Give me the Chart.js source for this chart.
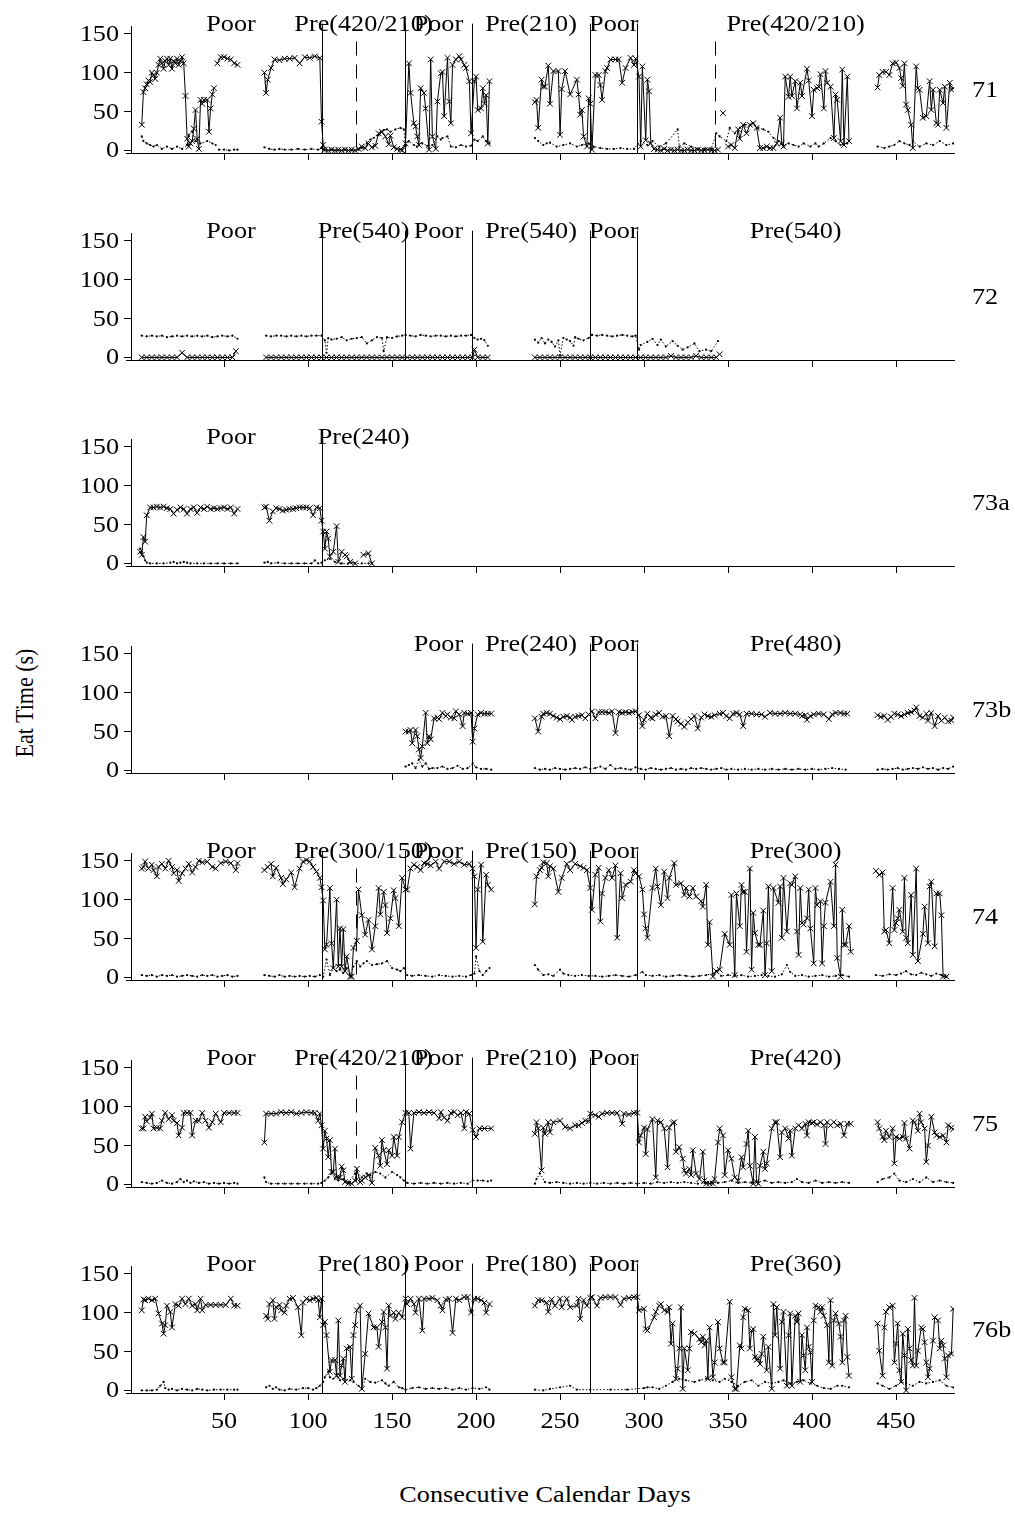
<!DOCTYPE html>
<html>
<head>
<meta charset="utf-8">
<script src="https://cdn.jsdelivr.net/npm/chart.js@4/dist/chart.umd.min.js"></script>
<style>
  html, body { margin: 0; padding: 0; background: #fff; }
  body { width: 1015px; height: 1530px; position: relative; overflow: hidden; font-family: "Liberation Serif", "Times New Roman", serif; }
  canvas.panel { position: absolute; left: 0; }
  .title { position: absolute; color: #000; white-space: nowrap; line-height: 1; }
  #ytitle { left: 25px; top: 703px; font-size: 22px; transform: translate(-50%, -50%) rotate(-90deg) scale(1, 1.14); }
  #xtitle { left: 545px; top: 1494px; font-size: 23px; transform: translate(-50%, -50%) scale(1.14, 1); }
</style>
</head>
<body>
<div id="ytitle" class="title">Eat Time (s)</div>
<div id="xtitle" class="title">Consecutive Calendar Days</div>
<script>
// ---- tick values ----
const xTickValues = [50, 100, 150, 200, 250, 300, 350, 400, 450];
const yTickValues = [0, 50, 100, 150];

// ---- animal 71 ----
const cross71 = [[1,33],[2,75],[3,80],[4,85],[5,90],[6,88],[7,100],[8,97],[9,92],[10,100],[11,110],[12,118],[13,112],[14,105],[15,115],[16,118],[17,110],[18,118],[19,105],[20,115],[21,112],[22,118],[23,110],[24,115],[25,120],[26,112],[27,70],[28,15],[29,5],[30,9],[31,12],[32,28],[33,52],[34,15],[35,2],[36,65],[37,60],[38,65],[40,65],[41,24],[42,54],[43,72],[44,80],[45,null],[46,112],[48,120],[50,120],[52,118],[54,117],[56,112],[58,110],[59,null],
[74,100],[75,74],[76,91],[78,106],[80,117],[83,116],[86,118],[89,118],[92,119],[95,112],[98,120],[101,119],[104,121],[107,119],[108,37],[109,7],[110,1],[112,0],[114,1],[116,0],[118,1],[120,0],[122,1],[124,0],[126,1],[128,0],[130,2],[132,5],[134,3],[136,9],[138,4],[140,6],[142,22],[144,24],[146,18],[148,8],[149,19],[151,4],[153,2],[155,1],[156,0],[158,9],[160,112],[161,74],[163,35],[164,31],[165,18],[166,7],[167,80],[169,74],[170,54],[172,1],[173,117],[174,18],[176,2],[177,63],[179,99],[180,101],[181,44],[183,119],[184,63],[185,35],[186,110],[188,117],[190,121],[191,117],[193,110],[194,106],[196,89],[197,22],[199,89],[200,95],[201,52],[203,54],[204,80],[205,60],[206,71],[207,9],[208,89],[209,null],
[235,62],[236,65],[237,29],[239,91],[240,82],[241,82],[243,109],[244,60],[246,102],[249,102],[250,20],[251,79],[253,102],[256,72],[260,91],[261,72],[262,46],[263,52],[264,18],[266,5],[267,67],[268,60],[269,1],[271,97],[273,97],[274,84],[275,65],[277,102],[278,106],[280,117],[283,117],[285,117],[287,87],[289,106],[292,119],[294,110],[295,118],[297,95],[298,5],[299,108],[301,13],[302,91],[303,76],[304,9],[306,2],[308,1],[310,0],[312,2],[314,0],[316,1],[318,0],[320,1],[322,0],[324,0],[326,1],[328,0],[330,0],[332,1],[334,0],[336,0],[338,1],[340,0],[342,0],[344,1],[346,null],[347,48],[348,null],[350,5],[352,7],[354,3],[356,27],[357,15],[359,33],[361,22],[363,33],[365,35],[367,29],[369,3],[371,3],[373,5],[375,3],[377,3],[379,9],[381,42],[382,9],[383,5],[384,95],[386,69],[387,95],[388,70],[390,89],[391,54],[393,87],[394,70],[397,105],[398,90],[400,44],[401,78],[403,80],[404,82],[405,98],[407,54],[408,102],[409,87],[411,82],[413,16],[414,72],[415,65],[417,12],[418,104],[419,7],[421,95],[422,12],[423,null],
[439,81],[440,97],[442,101],[444,101],[446,97],[448,112],[450,113],[452,106],[453,93],[454,83],[455,112],[456,59],[457,52],[459,33],[460,3],[462,108],[463,80],[464,78],[466,42],[468,44],[470,89],[471,52],[472,78],[474,35],[475,33],[476,78],[478,61],[479,82],[480,29],[482,87],[483,78],[484,80]];
const dots71 = [[1,18],[2,12],[4,9],[6,7],[8,5],[10,7],[13,2],[16,5],[19,2],[22,5],[25,2],[28,7],[29,20],[31,24],[33,12],[36,9],[40,12],[43,9],[45,7],[46,null],[47,1],[50,1],[53,0],[56,1],[58,1],[59,null],
[74,4],[77,2],[80,1],[83,2],[86,1],[90,1],[94,2],[98,1],[102,2],[106,1],[108,3],[110,0],[114,1],[118,0],[122,1],[126,0],[130,1],[132,3],[135,9],[137,14],[139,16],[142,20],[145,26],[147,27],[149,24],[152,27],[155,29],[157,27],[158,5],[160,12],[163,7],[165,5],[168,9],[171,6],[174,7],[177,18],[179,14],[180,16],[183,18],[185,5],[188,4],[191,7],[194,5],[197,6],[199,14],[201,12],[204,18],[206,12],[208,9],[209,null],
[235,16],[237,12],[240,7],[242,9],[244,10],[248,5],[252,7],[256,9],[260,5],[263,7],[267,9],[270,5],[274,3],[278,2],[282,2],[286,3],[290,2],[294,2],[298,12],[302,7],[305,12],[309,5],[313,9],[320,27],[321,5],[324,9],[328,5],[332,2],[336,2],[340,2],[343,22],[345,18],[349,12],[351,29],[354,22],[357,29],[360,33],[363,33],[365,35],[368,29],[371,27],[374,24],[377,16],[380,12],[383,5],[386,9],[389,7],[392,5],[395,9],[399,5],[402,9],[404,5],[407,9],[411,16],[414,12],[417,7],[421,9],[423,null],
[439,5],[443,3],[446,5],[449,7],[452,12],[455,9],[458,7],[460,12],[464,5],[468,9],[472,7],[476,12],[480,7],[484,9]];
const bounds71 = [0, 108.3, 157.7, 197.5, 268, 296, 484.5];
const names71 = ['Poor', 'Pre(420/210)', 'Poor', 'Pre(210)', 'Poor', 'Pre(420/210)'];
const dashed71 = [128.6, 342.3];

// ---- animal 72 ----
const cross72 = [[1,0],[4,0],[7,0],[10,0],[13,0],[16,0],[19,0],[22,0],[25,6],[28,0],[31,0],[34,0],[37,0],[40,0],[43,0],[46,0],[49,0],[52,0],[55,0],[57,8],[58,null],
[75,0],[78,0],[81,0],[84,0],[87,0],[90,0],[93,0],[96,0],[99,0],[102,0],[105,0],[108,0],[111,0],[114,0],[117,0],[120,0],[123,0],[126,0],[129,0],[132,0],[135,0],[138,0],[141,0],[144,0],[147,0],[150,0],[153,0],[156,0],[159,0],[162,0],[165,0],[168,0],[171,0],[174,0],[177,0],[180,0],[183,0],[186,0],[189,0],[192,0],[195,0],[198,0],[199,10],[201,0],[204,0],[207,0],[209,null],
[235,0],[238,0],[241,0],[244,0],[247,0],[250,0],[253,0],[256,0],[259,0],[262,0],[265,0],[268,0],[271,0],[274,0],[277,0],[280,0],[283,0],[286,0],[289,0],[292,0],[295,0],[298,0],[301,0],[304,0],[307,0],[310,0],[313,0],[316,2],[319,0],[322,0],[325,0],[328,0],[331,2],[334,0],[337,0],[340,0],[343,0],[345,4]];
const dots72 = [[1,28],[4,27],[7,28],[10,27],[13,28],[16,26],[19,27],[22,28],[25,27],[28,28],[31,27],[34,28],[37,27],[40,28],[43,26],[46,27],[49,28],[52,27],[55,28],[58,24],[59,null],
[75,28],[78,27],[81,28],[84,28],[87,27],[90,28],[93,27],[96,28],[99,27],[102,28],[105,28],[108,28],[110,22],[111,6],[112,25],[114,23],[117,24],[120,26],[123,22],[126,24],[129,25],[132,26],[135,18],[138,22],[141,26],[144,25],[145,8],[147,26],[150,25],[153,27],[156,28],[158,29],[161,28],[164,27],[167,29],[170,28],[173,27],[176,28],[179,28],[182,27],[185,28],[188,27],[191,28],[194,28],[197,29],[199,25],[201,23],[203,24],[205,22],[207,15],[209,null],
[235,23],[237,19],[239,25],[241,18],[243,23],[245,20],[247,14],[249,22],[250,3],[252,25],[254,23],[256,21],[258,15],[259,26],[261,24],[264,22],[267,25],[269,29],[272,28],[275,29],[278,28],[281,27],[284,28],[287,29],[290,28],[293,27],[295,28],[297,10],[298,16],[302,20],[305,24],[308,16],[310,23],[313,14],[317,21],[320,15],[323,10],[326,13],[330,18],[333,8],[337,10],[340,8],[344,21]];
const bounds72 = [0, 108.3, 157.7, 197.5, 268, 296, 484.5];
const names72 = ['Poor', 'Pre(540)', 'Poor', 'Pre(540)', 'Poor', 'Pre(540)'];
const dashed72 = [];

// ---- animal 73a ----
const cross73a = [[0,15],[1,11],[2,34],[3,28],[4,62],[6,72],[8,72],[10,73],[12,72],[14,73],[16,71],[18,70],[20,64],[22,69],[24,72],[26,70],[28,64],[30,70],[32,72],[34,65],[36,72],[38,70],[40,73],[42,70],[44,71],[46,70],[48,71],[50,72],[52,70],[54,72],[56,64],[58,70],[59,null],
[74,72],[75,73],[77,55],[79,67],[81,71],[83,70],[85,68],[87,69],[89,70],[91,70],[93,71],[95,72],[97,72],[99,72],[101,71],[103,62],[105,72],[107,71],[108,55],[109,41],[110,19],[111,41],[112,32],[113,9],[115,15],[117,48],[118,2],[120,15],[122,11],[123,9],[125,2],[128,0],[129,null],[133,11],[136,13],[138,0]];
const dots73a = [[0,19],[1,15],[2,9],[3,4],[4,1],[6,0],[10,0],[14,0],[18,1],[20,2],[22,0],[24,1],[26,2],[28,1],[30,0],[34,0],[38,0],[42,0],[46,0],[50,0],[54,0],[58,0],[59,null],
[74,1],[76,2],[78,0],[82,1],[86,0],[90,0],[94,0],[98,0],[102,0],[104,4],[106,0],[108,1],[110,4],[113,6],[116,2],[120,0],[124,0],[128,0],[132,0],[136,0],[138,0]];
const bounds73a = [0, 108.3, 157.7];
const names73a = ['Poor', 'Pre(240)'];
const dashed73a = [];

// ---- animal 73b ----
const cross73b = [[158,50],[160,50],[161,52],[162,35],[164,52],[165,44],[166,27],[167,16],[168,31],[170,74],[171,35],[172,44],[173,40],[175,67],[177,68],[178,66],[180,74],[182,70],[183,72],[185,68],[187,67],[188,76],[190,72],[192,57],[193,74],[195,73],[197,74],[198,37],[199,54],[201,72],[203,74],[205,73],[207,73],[209,73],[210,null],
[235,67],[237,50],[239,69],[240,73],[242,74],[244,73],[246,70],[248,68],[250,66],[252,69],[254,70],[256,68],[257,65],[259,69],[261,70],[263,71],[265,67],[267,72],[269,76],[271,67],[273,75],[275,75],[277,75],[279,74],[281,76],[283,48],[285,75],[287,74],[289,75],[291,74],[293,75],[295,76],[297,71],[299,57],[300,65],[302,73],[304,68],[305,67],[307,72],[309,74],[311,69],[313,70],[315,44],[317,70],[319,66],[320,63],[322,60],[324,56],[326,62],[328,66],[330,70],[332,54],[334,68],[336,72],[338,70],[340,69],[342,71],[345,73],[347,74],[349,70],[351,67],[353,73],[355,74],[357,72],[359,57],[361,73],[364,73],[367,72],[370,72],[372,69],[375,74],[378,73],[381,73],[384,74],[387,73],[390,73],[393,72],[394,70],[396,71],[397,65],[399,70],[401,72],[404,73],[407,72],[410,66],[412,72],[414,74],[417,74],[419,73],[421,73],[422,null],
[439,71],[441,69],[443,70],[445,65],[447,69],[449,73],[451,72],[453,70],[455,72],[457,74],[459,75],[461,77],[462,81],[464,70],[466,68],[468,73],[469,64],[471,74],[473,57],[475,70],[477,64],[479,68],[481,63],[483,64],[484,68]];
const dots73b = [[158,5],[160,7],[162,9],[164,3],[166,14],[168,5],[170,9],[172,2],[174,3],[177,3],[180,5],[183,2],[186,3],[189,6],[192,2],[195,3],[198,9],[200,4],[203,2],[206,2],[209,1],[210,null],
[235,3],[238,1],[241,2],[244,1],[247,3],[250,2],[253,1],[256,2],[259,3],[262,2],[265,4],[268,2],[271,3],[274,5],[277,2],[280,7],[283,2],[286,3],[289,2],[292,1],[295,4],[298,2],[301,1],[304,3],[307,2],[310,1],[313,2],[316,3],[319,1],[322,2],[325,1],[328,3],[331,2],[334,3],[337,2],[340,1],[343,2],[346,3],[349,1],[352,2],[356,1],[360,2],[364,1],[368,2],[372,1],[376,2],[380,1],[384,2],[388,1],[392,2],[396,1],[400,2],[404,1],[408,2],[412,3],[416,2],[420,1],[422,null],
[439,1],[442,2],[445,1],[448,2],[451,3],[454,1],[457,2],[460,3],[463,2],[466,4],[469,2],[472,3],[475,1],[478,3],[481,2],[484,5]];
const bounds73b = [157.7, 197.5, 268, 296, 484.5];
const names73b = ['Poor', 'Pre(240)', 'Poor', 'Pre(480)'];
const dashed73b = [];

// ---- animal 74 ----
const cross74 = [[1,140],[2,142],[3,149],[5,140],[7,145],[8,138],[10,130],[11,142],[13,146],[15,140],[17,150],[19,142],[20,134],[22,138],[23,124],[25,134],[27,140],[29,146],[31,135],[33,142],[35,150],[37,148],[40,149],[43,142],[45,140],[48,147],[51,149],[54,147],[57,138],[58,147],[59,null],
[74,138],[76,142],[78,146],[79,130],[81,141],[84,128],[85,120],[87,126],[90,135],[92,116],[95,140],[97,149],[99,151],[101,149],[103,142],[105,136],[107,128],[108,116],[109,99],[110,36],[111,42],[113,115],[114,44],[115,12],[117,100],[118,14],[119,63],[120,14],[121,62],[122,8],[123,27],[125,1],[126,1],[127,38],[129,47],[130,113],[132,80],[134,55],[136,74],[138,36],[140,66],[142,115],[143,81],[145,110],[146,93],[147,57],[149,76],[151,112],[152,102],[154,66],[156,128],[158,113],[159,113],[161,140],[163,145],[165,142],[167,138],[169,147],[171,146],[173,144],[176,149],[178,140],[181,149],[184,149],[187,146],[190,149],[193,145],[196,146],[198,140],[199,130],[200,38],[201,113],[203,145],[204,46],[206,132],[207,119],[209,113],[210,null],
[235,94],[236,130],[238,138],[239,141],[240,148],[242,147],[243,130],[244,143],[246,140],[249,110],[251,128],[254,146],[256,138],[259,146],[262,143],[264,141],[266,138],[268,115],[269,87],[271,132],[273,141],[274,72],[275,108],[277,128],[279,138],[281,128],[283,144],[284,51],[286,134],[287,102],[289,119],[292,123],[294,138],[295,134],[297,130],[299,113],[300,81],[301,63],[302,51],[305,115],[307,140],[308,117],[310,93],[312,136],[314,102],[315,128],[318,147],[319,119],[322,121],[324,106],[325,115],[327,104],[329,115],[331,104],[334,98],[335,91],[337,119],[338,42],[339,71],[341,1],[343,8],[345,10],[348,56],[351,42],[352,106],[354,3],[355,108],[357,66],[358,119],[359,110],[360,110],[361,33],[363,140],[364,10],[365,83],[366,57],[368,42],[369,42],[371,86],[372,3],[373,44],[374,117],[376,8],[377,115],[380,96],[381,117],[382,51],[383,128],[385,59],[387,121],[388,119],[390,130],[391,59],[392,29],[393,115],[394,70],[395,68],[397,76],[398,113],[399,63],[401,18],[402,115],[403,93],[405,98],[406,18],[407,66],[408,96],[411,123],[413,66],[414,145],[415,25],[417,1],[418,87],[419,42],[420,42],[422,66],[423,33],[424,null],
[438,137],[440,132],[442,135],[443,59],[444,61],[446,44],[448,115],[449,61],[450,70],[451,76],[452,87],[454,59],[455,128],[456,51],[457,44],[459,106],[460,29],[462,140],[463,21],[466,56],[467,91],[469,44],[470,117],[471,123],[473,40],[474,108],[476,108],[477,80],[478,1],[480,1]];
const dots74 = [[1,3],[4,2],[7,3],[10,1],[13,3],[16,2],[19,3],[22,1],[25,2],[28,3],[31,2],[34,1],[37,3],[40,2],[43,3],[46,1],[49,2],[52,3],[55,1],[58,2],[59,null],
[74,3],[77,2],[80,1],[83,3],[86,1],[89,2],[92,1],[95,2],[98,1],[101,2],[104,1],[107,3],[109,1],[111,23],[113,3],[115,12],[117,8],[119,10],[121,6],[123,12],[125,3],[127,14],[129,21],[131,14],[133,18],[135,21],[138,16],[141,17],[144,18],[147,21],[150,12],[153,10],[155,8],[157,12],[159,3],[162,2],[166,3],[170,2],[174,1],[178,3],[182,2],[186,1],[190,2],[194,1],[197,3],[199,5],[200,27],[202,8],[204,3],[206,8],[208,12],[210,null],
[235,16],[237,10],[240,3],[243,4],[246,2],[250,10],[252,5],[255,3],[259,2],[263,3],[267,2],[271,2],[275,1],[279,2],[283,3],[287,2],[291,1],[295,3],[299,7],[301,3],[305,2],[309,3],[313,1],[317,2],[321,3],[325,2],[329,1],[333,2],[337,3],[341,5],[343,8],[346,2],[350,3],[354,2],[358,3],[362,1],[366,2],[370,3],[374,2],[378,1],[382,4],[385,16],[387,7],[390,2],[394,3],[398,1],[402,2],[406,3],[410,1],[414,2],[418,3],[422,1],[424,null],
[438,3],[442,2],[446,4],[450,3],[453,5],[456,8],[459,4],[462,3],[465,6],[468,4],[471,2],[474,5],[477,3],[480,1]];
const bounds74 = [0, 108.3, 157.7, 197.5, 268, 296, 484.5];
const names74 = ['Poor', 'Pre(300/150)', 'Poor', 'Pre(150)', 'Poor', 'Pre(300)'];
const dashed74 = [128.6];

// ---- animal 75 ----
const cross75 = [[1,72],[2,72],[3,87],[4,81],[6,86],[7,91],[8,72],[10,73],[12,72],[13,82],[15,92],[17,84],[19,89],[20,82],[22,79],[23,63],[25,73],[26,92],[28,92],[30,92],[31,63],[33,82],[35,82],[37,92],[39,82],[41,73],[43,80],[45,91],[48,80],[50,92],[53,92],[56,92],[58,92],[59,null],
[74,54],[75,91],[78,91],[81,91],[84,93],[87,92],[90,93],[93,91],[96,92],[99,93],[102,92],[104,92],[106,82],[107,91],[108,76],[109,46],[110,69],[111,59],[112,35],[113,57],[114,16],[115,16],[116,46],[117,9],[118,9],[119,9],[120,23],[121,18],[122,3],[124,1],[126,1],[128,5],[129,20],[131,3],[132,5],[134,9],[136,12],[138,2],[140,47],[142,37],[143,24],[144,57],[145,44],[147,26],[148,44],[150,37],[151,61],[153,37],[154,61],[156,80],[158,92],[160,92],[161,46],[163,92],[166,93],[169,92],[172,93],[175,92],[178,85],[179,93],[181,86],[183,82],[185,92],[187,93],[189,89],[191,92],[193,72],[194,93],[196,91],[198,70],[200,61],[202,72],[205,72],[209,72],[210,null],
[235,65],[236,80],[237,72],[239,18],[240,73],[241,65],[243,80],[244,67],[246,80],[250,82],[253,74],[256,72],[259,76],[261,76],[263,79],[265,82],[267,81],[268,91],[271,89],[273,87],[275,91],[278,92],[281,92],[284,92],[287,78],[288,91],[291,90],[294,92],[296,92],[297,54],[298,63],[300,73],[301,39],[302,71],[305,84],[307,9],[308,82],[310,80],[312,72],[314,22],[315,73],[317,79],[318,80],[319,42],[321,48],[323,33],[324,18],[325,14],[327,20],[328,12],[329,44],[331,14],[333,7],[335,42],[336,5],[337,1],[339,1],[341,1],[342,7],[344,54],[345,72],[347,63],[348,12],[350,44],[352,33],[354,9],[356,5],[358,35],[359,22],[361,52],[362,69],[363,24],[365,1],[366,61],[367,3],[368,1],[369,24],[371,42],[372,20],[373,27],[376,72],[378,80],[379,80],[381,35],[382,67],[384,72],[386,59],[387,69],[388,37],[390,72],[392,76],[394,72],[396,78],[397,63],[398,80],[400,79],[401,80],[403,77],[405,80],[407,76],[408,52],[409,80],[411,76],[413,80],[415,76],[417,78],[419,63],[421,78],[423,78],[424,null],
[439,80],[440,72],[442,61],[443,57],[444,69],[446,61],[448,72],[449,27],[450,61],[452,59],[454,61],[455,79],[456,59],[458,46],[460,82],[461,80],[463,69],[464,91],[465,80],[467,72],[468,29],[469,50],[471,87],[473,67],[474,63],[476,61],[478,63],[480,54],[481,76],[483,73],[484,71]];
const dots75 = [[1,3],[4,2],[7,1],[10,2],[13,5],[16,2],[19,1],[22,3],[24,7],[26,3],[28,5],[30,2],[32,4],[35,2],[38,3],[41,1],[44,2],[47,1],[50,2],[53,1],[56,2],[58,1],[59,null],
[74,9],[75,3],[78,1],[82,1],[86,1],[90,1],[94,1],[98,1],[102,1],[106,1],[108,2],[110,5],[112,9],[114,14],[116,8],[118,5],[121,7],[124,3],[128,14],[129,16],[132,9],[135,14],[137,12],[140,16],[143,14],[146,9],[150,16],[153,12],[155,9],[157,5],[159,2],[163,1],[167,2],[171,1],[175,2],[179,1],[183,2],[187,1],[191,2],[195,1],[198,5],[201,5],[204,5],[207,4],[209,5],[210,null],
[235,1],[236,7],[238,14],[241,3],[244,2],[248,3],[252,2],[256,1],[260,2],[264,1],[268,2],[272,1],[276,2],[280,1],[284,2],[288,1],[292,2],[296,1],[300,2],[304,1],[308,3],[312,2],[316,3],[320,2],[324,3],[328,2],[332,1],[336,2],[340,3],[344,2],[348,3],[352,5],[356,2],[360,3],[364,2],[368,3],[372,5],[376,2],[380,3],[384,2],[388,3],[391,7],[394,3],[398,2],[402,5],[406,2],[410,3],[414,2],[418,3],[422,2],[424,null],
[439,3],[442,7],[446,9],[449,14],[452,5],[456,3],[460,7],[464,3],[468,9],[472,3],[476,5],[480,3],[484,2]];
const bounds75 = [0, 108.3, 157.7, 197.5, 268, 296, 484.5];
const names75 = ['Poor', 'Pre(420/210)', 'Poor', 'Pre(210)', 'Poor', 'Pre(420)'];
const dashed75 = [128.6];

// ---- animal 76b ----
const cross76b = [[1,103],[2,117],[3,116],[5,118],[7,116],[9,118],[11,99],[13,86],[14,73],[15,84],[16,109],[18,101],[19,81],[21,111],[23,109],[25,118],[27,111],[29,118],[31,109],[33,111],[34,103],[36,118],[37,103],[39,110],[42,110],[45,110],[48,110],[51,110],[54,118],[56,109],[58,109],[59,null],
[75,96],[76,92],[77,111],[79,116],[80,92],[81,107],[83,110],[84,103],[86,100],[87,109],[89,118],[91,119],[94,107],[96,71],[97,113],[99,118],[101,116],[103,118],[105,119],[106,116],[107,94],[108,118],[109,84],[110,88],[111,71],[113,24],[114,39],[116,39],[117,19],[118,90],[119,19],[120,32],[121,41],[122,11],[123,54],[125,56],[126,15],[127,71],[128,84],[129,103],[131,109],[132,2],[134,47],[136,99],[139,81],[141,81],[142,56],[144,88],[145,101],[146,81],[147,28],[148,109],[149,96],[151,100],[152,92],[154,100],[156,94],[158,118],[159,111],[161,118],[163,111],[164,100],[166,118],[168,77],[169,118],[172,118],[174,119],[177,116],[179,109],[180,103],[182,117],[184,118],[186,74],[188,118],[190,116],[193,120],[195,120],[197,100],[199,118],[201,118],[203,116],[205,113],[206,100],[208,111],[209,null],
[235,109],[237,116],[239,116],[242,113],[243,101],[245,117],[247,109],[250,118],[251,107],[254,118],[256,107],[260,109],[261,118],[262,92],[264,116],[266,109],[268,119],[269,120],[272,109],[274,119],[277,120],[280,120],[283,120],[286,110],[288,118],[291,119],[294,120],[296,120],[297,103],[300,105],[301,79],[302,77],[306,94],[307,101],[309,109],[310,111],[312,103],[314,101],[315,107],[316,60],[317,86],[319,15],[320,28],[321,54],[322,107],[323,2],[324,54],[326,26],[327,54],[328,75],[330,73],[333,66],[334,62],[335,69],[336,58],[337,64],[338,15],[339,81],[341,17],[342,36],[344,88],[345,54],[347,36],[348,36],[351,114],[352,17],[354,2],[355,2],[357,58],[358,54],[359,94],[360,105],[362,103],[363,54],[364,77],[365,79],[366,43],[367,39],[368,41],[369,34],[370,47],[371,69],[373,26],[374,56],[376,2],[377,111],[378,71],[379,107],[381,28],[382,88],[383,101],[385,6],[386,71],[387,99],[388,6],[390,96],[391,88],[392,99],[393,11],[394,71],[395,45],[396,26],[397,81],[398,56],[399,49],[400,11],[401,90],[402,109],[404,107],[405,101],[406,107],[407,96],[409,84],[410,36],[411,116],[412,32],[413,90],[414,99],[416,86],[417,69],[418,36],[419,90],[420,96],[421,43],[422,19],[423,null],
[439,86],[440,51],[442,19],[443,81],[444,101],[446,107],[448,109],[449,36],[450,60],[451,86],[452,26],[453,11],[454,73],[455,45],[456,0],[457,79],[458,54],[459,39],[460,32],[461,119],[462,32],[463,51],[465,81],[466,79],[467,62],[468,36],[469,17],[470,28],[472,64],[473,94],[475,90],[476,54],[477,64],[478,58],[479,41],[480,17],[481,45],[483,47],[484,105]];
const dots76b = [[1,0],[4,0],[7,0],[10,1],[12,6],[14,11],[15,3],[17,1],[19,2],[22,0],[25,2],[28,1],[31,0],[34,2],[37,1],[40,0],[44,1],[48,1],[52,1],[56,1],[58,1],[59,null],
[75,4],[77,6],[79,2],[81,4],[83,1],[86,0],[89,2],[93,1],[97,3],[100,3],[103,1],[105,3],[107,6],[109,11],[110,17],[112,24],[113,17],[115,15],[117,19],[119,13],[121,15],[125,13],[127,11],[130,6],[132,2],[134,15],[137,11],[140,10],[144,13],[146,9],[148,6],[151,11],[154,4],[156,3],[158,1],[162,3],[166,4],[170,2],[174,3],[178,2],[182,3],[186,1],[190,3],[194,1],[198,3],[202,2],[206,4],[208,1],[209,null],
[235,1],[240,0],[244,2],[250,4],[256,6],[260,1],[268,1],[280,1],[290,1],[300,3],[302,4],[305,4],[309,2],[313,6],[317,11],[321,15],[325,13],[330,11],[333,13],[337,15],[341,13],[345,11],[348,15],[352,11],[356,6],[360,11],[364,13],[368,6],[372,11],[376,9],[380,11],[383,13],[387,9],[391,11],[395,13],[399,9],[403,6],[407,3],[411,2],[415,6],[418,6],[422,4],[423,null],
[439,9],[442,6],[446,2],[450,6],[453,11],[456,9],[460,6],[464,11],[468,9],[472,11],[476,13],[480,6],[484,4]];
const bounds76b = [0, 108.3, 157.7, 197.5, 268, 296, 484.5];
const names76b = ['Poor', 'Pre(180)', 'Poor', 'Pre(180)', 'Poor', 'Pre(360)'];
const dashed76b = [];

// ---- panel list, top to bottom; zeroY is the page row of the 0 level ----
const panels = [
  { id: '71',  cross: cross71,  dots: dots71,  bounds: bounds71,  names: names71,  dashed: dashed71,  zeroY: 150.7 },
  { id: '72',  cross: cross72,  dots: dots72,  bounds: bounds72,  names: names72,  dashed: dashed72,  zeroY: 357.7 },
  { id: '73a', cross: cross73a, dots: dots73a, bounds: bounds73a, names: names73a, dashed: dashed73a, zeroY: 563.3 },
  { id: '73b', cross: cross73b, dots: dots73b, bounds: bounds73b, names: names73b, dashed: dashed73b, zeroY: 770.7 },
  { id: '74',  cross: cross74,  dots: dots74,  bounds: bounds74,  names: names74,  dashed: dashed74,  zeroY: 977.7 },
  { id: '75',  cross: cross75,  dots: dots75,  bounds: bounds75,  names: names75,  dashed: dashed75,  zeroY: 1184 },
  { id: '76b', cross: cross76b, dots: dots76b, bounds: bounds76b, names: names76b, dashed: dashed76b, zeroY: 1390 }
];

const FONT = "'Liberation Serif', 'Times New Roman', Times, serif";
const FONT_SIZE = 23;
const STRETCH = 1.14;          // glyphs are drawn a little wider than tall
const Y_MIN = -3.3, Y_MAX = 160;
const X_MIN = -5.4, X_MAX = 484.5;
const PAD_TOP = 40, PLOT_H = 127, AXIS_H = 10, LAST_AXIS_H = 48;
const Y_TICK_LEN = 7, X_TICK_LEN = 7;

Chart.defaults.font.family = FONT;
Chart.defaults.color = '#000';

function drawLabel(ctx, text, x, y, align, baseline) {
  ctx.save();
  ctx.translate(x, y);
  ctx.scale(STRETCH, 1);
  ctx.textAlign = align;
  ctx.textBaseline = baseline;
  ctx.fillText(text, 0, 0);
  ctx.restore();
}

// phase separators, phase names, tick labels and the animal id
const phasePlugin = {
  id: 'phases',
  afterDatasetsDraw(chart, args, opts) {
    const p = opts.panel;
    if (!p) return;
    const { ctx, chartArea } = chart;
    const xs = chart.scales.x, ys = chart.scales.y;
    ctx.save();
    ctx.strokeStyle = '#000';
    ctx.lineWidth = 1;
    const bottom = chartArea.bottom;
    p.bounds.slice(1, -1).forEach(d => {
      const px = Math.round(xs.getPixelForValue(d)) + 0.5;
      ctx.beginPath();
      ctx.moveTo(px, ys.getPixelForValue(163));
      ctx.lineTo(px, bottom);
      ctx.stroke();
    });
    ctx.setLineDash([14, 9]);
    p.dashed.forEach(d => {
      const px = Math.round(xs.getPixelForValue(d)) + 0.5;
      ctx.beginPath();
      ctx.moveTo(px, ys.getPixelForValue(140));
      ctx.lineTo(px, ys.getPixelForValue(0));
      ctx.stroke();
    });
    ctx.setLineDash([]);
    // the day axis runs a little past the value axis on the left
    ctx.beginPath();
    ctx.moveTo(chartArea.left - 5, Math.round(bottom) + 0.5);
    ctx.lineTo(chartArea.left, Math.round(bottom) + 0.5);
    ctx.stroke();

    ctx.fillStyle = '#000';
    ctx.font = FONT_SIZE + 'px ' + FONT;
    p.names.forEach((name, i) => {
      const mid = (p.bounds[i] + p.bounds[i + 1]) / 2;
      drawLabel(ctx, name, xs.getPixelForValue(mid), ys.getPixelForValue(154), 'center', 'alphabetic');
    });
    drawLabel(ctx, p.id, chartArea.right + 18, ys.getPixelForValue(76), 'left', 'middle');

    ys.ticks.forEach(t => {
      drawLabel(ctx, String(t.value), chartArea.left - Y_TICK_LEN - 5, ys.getPixelForValue(t.value) + 1, 'right', 'middle');
    });
    if (opts.last) {
      xs.ticks.forEach(t => {
        drawLabel(ctx, String(t.value), xs.getPixelForValue(t.value), bottom + X_TICK_LEN + 10, 'center', 'top');
      });
    }
    ctx.restore();
  }
};

const toXY = pairs => pairs.map(([x, y]) => ({ x, y }));

panels.forEach((p, idx) => {
  const last = idx === panels.length - 1;
  const axisH = last ? LAST_AXIS_H : AXIS_H;
  const canvas = document.createElement('canvas');
  canvas.className = 'panel';
  canvas.width = 1015;
  canvas.height = PAD_TOP + PLOT_H + axisH;
  const top = Math.round(p.zeroY - (PLOT_H * Y_MAX / (Y_MAX - Y_MIN)) - PAD_TOP);
  canvas.style.top = top + 'px';
  canvas.style.width = '1015px';
  canvas.style.height = canvas.height + 'px';
  document.body.appendChild(canvas);

  new Chart(canvas, {
    type: 'line',
    data: {
      datasets: [
        {
          data: toXY(p.dots),
          borderColor: '#000',
          borderWidth: 1,
          borderDash: [1.5, 2],
          pointStyle: 'circle',
          pointRadius: 1.1,
          pointBorderWidth: 0,
          pointBackgroundColor: '#000',
          spanGaps: false,
          tension: 0
        },
        {
          data: toXY(p.cross),
          borderColor: '#000',
          borderWidth: 1,
          pointStyle: 'crossRot',
          pointRadius: 4,
          pointBorderWidth: 1,
          pointBorderColor: '#000',
          pointBackgroundColor: '#000',
          spanGaps: false,
          tension: 0
        }
      ]
    },
    options: {
      responsive: false,
      maintainAspectRatio: false,
      animation: false,
      devicePixelRatio: 1,
      events: [],
      layout: { padding: { top: PAD_TOP, right: 61, left: 0, bottom: 0 } },
      plugins: {
        legend: { display: false },
        tooltip: { enabled: false },
        phases: { panel: p, last: last }
      },
      scales: {
        x: {
          type: 'linear',
          min: X_MIN,
          max: X_MAX,
          afterBuildTicks: s => { s.ticks = xTickValues.map(v => ({ value: v })); },
          afterFit: s => { s.height = axisH; s.paddingLeft = 0; s.paddingRight = 0; },
          grid: { display: true, drawOnChartArea: false, drawTicks: true, tickLength: X_TICK_LEN, color: '#000', lineWidth: 1 },
          border: { display: true, color: '#000', width: 1 },
          ticks: { display: false }
        },
        y: {
          type: 'linear',
          min: Y_MIN,
          max: Y_MAX,
          afterBuildTicks: s => { s.ticks = yTickValues.map(v => ({ value: v })); },
          afterFit: s => { s.width = 131; s.paddingTop = 0; s.paddingBottom = 0; },
          grid: { display: true, drawOnChartArea: false, drawTicks: true, tickLength: Y_TICK_LEN, color: '#000', lineWidth: 1 },
          border: { display: true, color: '#000', width: 1 },
          ticks: { display: false }
        }
      }
    },
    plugins: [phasePlugin]
  });
});
</script>
</body>
</html>
